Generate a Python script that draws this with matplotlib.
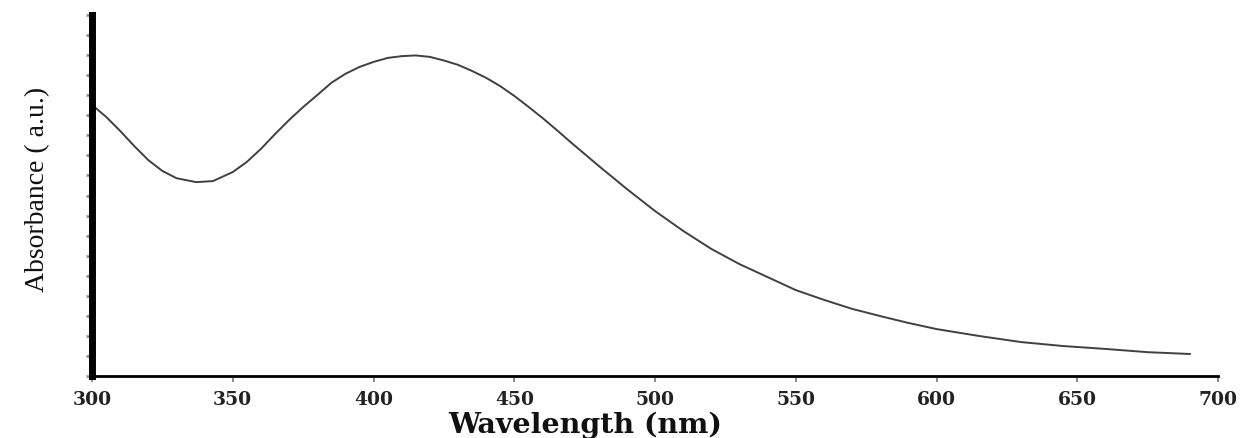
import numpy as np
import matplotlib
matplotlib.use("Agg")
import matplotlib.pyplot as plt
from matplotlib.ticker import MultipleLocator

# UV-Vis absorption spectrum (arbitrary units)
wavelength = [300, 305, 310, 315, 320, 325, 330, 337, 343, 350, 355, 360, 365,
              370, 375, 380, 385, 390, 395, 400, 405, 410, 415, 420, 425, 430,
              435, 440, 445, 450, 455, 460, 465, 470, 475, 480, 490, 500, 510,
              520, 530, 540, 550, 560, 570, 580, 590, 600, 615, 630, 645, 660,
              675, 690]
absorbance = [0.751, 0.718, 0.679, 0.637, 0.598, 0.568, 0.548, 0.537, 0.540,
              0.565, 0.593, 0.629, 0.670, 0.709, 0.745, 0.778, 0.812, 0.837,
              0.856, 0.870, 0.881, 0.886, 0.888, 0.884, 0.874, 0.862, 0.845,
              0.826, 0.803, 0.776, 0.746, 0.715, 0.682, 0.648, 0.615, 0.582,
              0.518, 0.457, 0.402, 0.352, 0.310, 0.274, 0.238, 0.211, 0.186,
              0.166, 0.147, 0.130, 0.111, 0.094, 0.083, 0.075, 0.066, 0.061]
xticks = [300, 350, 400, 450, 500, 550, 600, 650, 700]

fig = plt.figure(figsize=(12.44, 4.39), dpi=100)
ax = fig.add_axes([92 / 1244, 62 / 439, 1126 / 1244, 361 / 439])

ax.plot(wavelength, absorbance, color='#404040', linewidth=1.4)

ax.set_xlim(300, 700)
ax.set_ylim(0, 1)
ax.set_xticks(xticks)
ax.set_xticklabels([str(t) for t in xticks], family='DejaVu Serif',
                   fontweight='bold', fontsize=13.5, color='#222222')
ax.yaxis.set_major_locator(MultipleLocator(1 / 18))
ax.set_yticklabels([])

ax.tick_params(axis='x', direction='out', length=4, width=1.2,
               color='#777777', pad=6)
ax.tick_params(axis='y', direction='out', length=4, width=1.8,
               color='#888888')

for side in ['top', 'right']:
    ax.spines[side].set_visible(False)
ax.spines['left'].set_linewidth(5)
ax.spines['bottom'].set_linewidth(2)

ax.set_xlabel('Wavelength (nm)', family='DejaVu Serif', fontweight='bold',
              fontsize=20.5, color='#111111')
ax.xaxis.set_label_coords(0.438, -0.097)
ax.set_ylabel('Absorbance ( a.u.)', family='Liberation Serif', fontsize=20,
              color='#111111')
ax.yaxis.set_label_coords(-0.037, 0.52)

fig.savefig('out.png', dpi=100)
